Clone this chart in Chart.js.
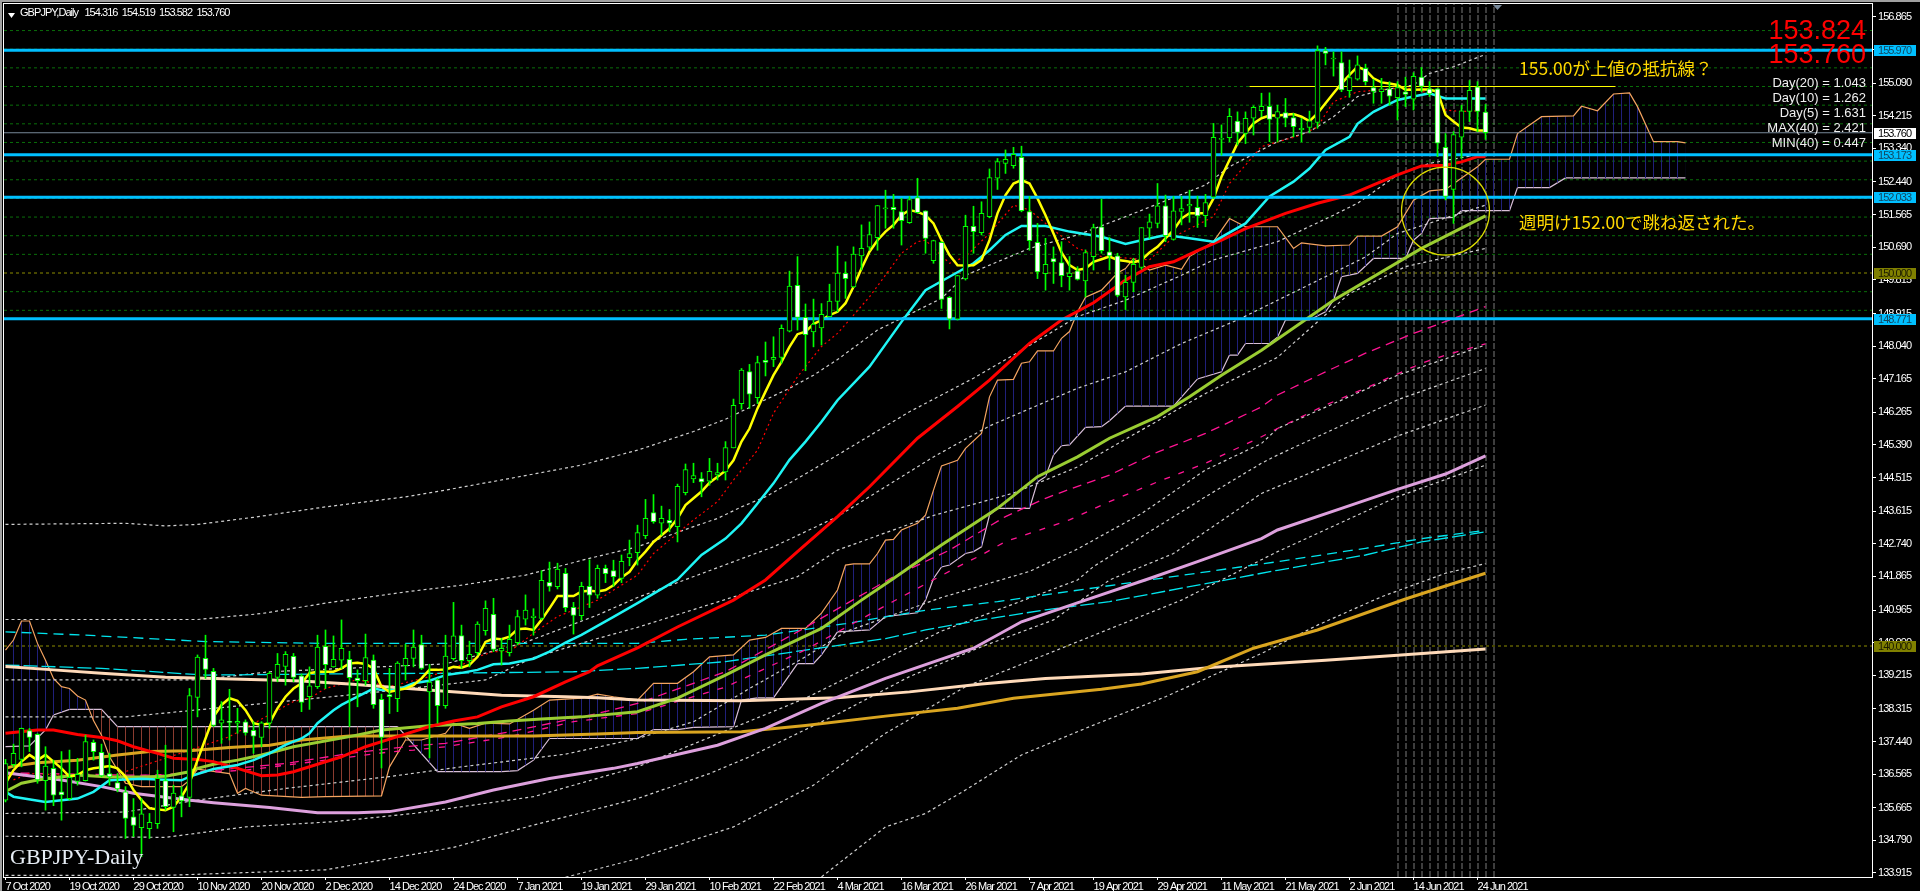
<!DOCTYPE html>
<html>
<head>
<meta charset="utf-8">
<title>GBPJPY Daily</title>
<script src="https://cdn.jsdelivr.net/npm/chart.js@4/dist/chart.umd.min.js"></script>
<style>
html, body { margin: 0; padding: 0; background: #000; overflow: hidden; }
canvas { display: block; }
</style>
</head>
<body>
<canvas id="chart" width="1920" height="891"></canvas>
<script>
// candles, one value per bar
const opens = [
  135.87,136.82,136.96,137.73,137.63,136.39,136.72,136.09,135.91,136.37,
  136.39,137.42,137.15,136.58,136.34,136.09,135.42,135.13,135.10,135.24,
  136.39,135.67,135.98,135.94,138.62,139.67,139.32,137.93,137.98,137.93,
  137.97,137.74,137.55,137.93,139.16,139.45,139.72,139.20,138.64,138.91,
  139.99,139.44,139.62,139.64,139.14,139.07,139.62,138.57,138.70,138.59,
  139.47,139.67,140.04,138.77,139.09,138.40,139.66,140.28,139.61,139.82,
  140.41,140.85,139.87,139.82,140.09,140.72,140.76,140.74,141.71,141.59,
  141.95,141.04,140.81,141.60,141.36,142.08,142.02,141.81,142.37,142.50,
  142.96,143.58,143.29,143.37,143.20,144.11,144.48,144.49,144.42,144.59,
  144.67,145.31,146.50,147.36,146.66,147.66,147.68,147.74,148.44,149.67,
  148.81,148.42,148.53,148.83,149.24,149.99,149.63,150.46,150.69,150.95,
  151.72,151.76,151.65,151.35,152.02,151.67,150.33,150.82,149.35,148.76,
  149.84,151.25,151.08,151.51,152.54,152.94,152.88,153.10,151.65,150.82,
  149.98,150.39,150.28,149.90,150.06,149.79,150.44,151.24,150.57,150.46,
  149.36,149.75,150.15,151.20,151.33,151.80,150.90,151.65,151.80,151.76,
  151.54,152.03,153.58,153.63,154.07,153.74,154.15,154.35,154.47,154.15,
  154.30,154.17,153.84,153.90,154.04,155.96,155.74,155.64,154.89,155.20,
  155.49,154.97,154.86,154.94,154.70,154.86,154.66,155.25,154.94,154.94,
  153.37,152.24,153.64,154.33,154.99,154.316
];
const closes = [
  136.85,137.12,137.79,137.55,136.41,136.78,136.0,136.01,136.48,136.56,
  137.44,137.17,136.52,136.49,136.17,135.38,135.19,135.50,135.27,136.45,
  135.69,136.06,135.85,138.67,139.70,139.37,137.87,138.02,137.95,137.98,
  137.67,137.58,137.94,139.27,139.51,139.78,139.16,138.49,138.93,139.97,
  139.50,139.64,139.94,139.15,139.07,139.69,138.43,137.55,138.64,139.54,
  139.67,139.97,139.40,139.03,138.40,139.73,140.27,139.61,139.78,140.59,
  141.01,139.91,139.94,140.18,140.79,140.96,140.80,141.76,141.60,142.06,
  141.03,140.82,141.60,141.36,142.08,141.94,141.86,142.27,142.48,143.04,
  143.42,143.33,143.42,143.29,144.28,144.73,144.57,144.40,144.68,144.65,
  145.32,146.45,147.40,146.75,147.60,147.60,147.74,148.52,149.65,148.81,
  148.35,148.63,148.89,149.25,150.0,149.85,150.51,150.66,151.03,151.81,
  151.75,151.70,151.40,151.97,151.62,150.93,150.87,149.29,148.76,149.93,
  151.25,151.11,151.60,152.56,152.99,153.05,153.18,151.67,150.87,150.03,
  150.23,150.30,149.93,150.0,149.83,150.55,151.22,150.60,150.46,149.40,
  149.75,150.23,151.22,151.37,151.80,151.0,151.67,151.73,151.84,151.53,
  151.89,153.64,153.61,154.20,153.77,154.15,154.44,154.47,154.12,154.33,
  154.15,153.92,153.88,154.08,155.96,155.89,155.76,154.91,155.24,155.58,
  155.13,154.87,154.94,154.74,154.97,154.79,155.27,155.0,154.80,153.48,
  152.05,153.71,154.35,154.90,154.33,153.76
];
const highs = [
  136.96,137.37,137.80,137.79,137.65,137.30,136.94,137.17,137.21,136.99,
  137.61,137.48,137.37,137.12,136.58,136.23,135.91,135.91,135.51,136.67,
  137.34,136.27,136.23,138.86,139.76,140.29,139.40,138.51,138.84,138.33,
  138.02,137.97,137.97,139.31,139.80,139.85,139.80,139.25,139.44,140.29,
  140.43,140.27,140.70,139.86,139.36,140.32,139.76,138.71,139.40,139.58,
  140.05,140.43,140.29,139.51,139.13,140.29,141.17,140.56,140.13,140.65,
  141.21,141.28,140.20,140.56,140.96,141.37,141.0,142.02,142.25,142.22,
  142.08,141.17,141.71,142.31,142.17,142.17,142.30,142.44,142.84,143.24,
  143.93,144.06,143.75,143.66,144.34,144.88,144.90,144.65,145.03,144.90,
  145.48,146.62,147.44,147.55,147.77,148.15,148.29,148.61,150.05,150.44,
  149.17,149.30,149.18,149.70,150.72,150.30,150.70,151.29,151.37,151.81,
  152.22,152.11,152.0,152.05,152.54,151.67,150.88,150.84,149.37,149.94,
  151.55,151.79,151.91,152.79,153.07,153.30,153.37,153.40,152.05,151.33,
  150.93,150.70,150.84,150.44,150.17,150.62,151.31,151.98,150.95,150.53,
  149.94,150.39,151.22,151.58,152.40,152.09,152.05,152.05,152.22,152.06,
  152.11,154.01,153.97,154.41,154.32,154.32,154.48,154.82,154.83,154.50,
  154.68,154.28,154.15,154.34,156.09,156.05,155.93,155.93,155.71,155.82,
  155.60,155.19,155.22,155.13,155.13,155.25,155.37,155.51,155.13,154.95,
  153.74,153.79,154.50,155.16,155.13,154.519
];
const lows = [
  135.82,136.76,136.76,137.17,136.32,135.60,135.72,135.33,135.87,136.27,
  136.38,136.94,136.49,136.27,136.09,134.84,134.89,134.35,134.84,135.11,
  135.60,135.02,135.42,135.69,138.10,139.13,137.84,137.39,137.48,137.66,
  137.61,137.12,137.30,137.79,139.04,138.95,139.04,138.24,138.30,138.86,
  138.86,139.43,139.40,137.84,138.37,138.95,138.33,136.73,138.19,138.24,
  139.09,139.44,139.37,137.0,137.93,138.33,139.62,139.40,139.44,139.76,
  140.29,139.85,139.49,139.73,140.03,140.56,140.29,140.70,141.47,141.53,
  140.92,140.32,140.70,141.03,141.28,141.7,141.6,141.7,142.15,142.17,
  142.88,143.29,142.97,143.06,142.79,144.05,144.38,144.0,144.31,144.45,
  144.45,145.31,146.35,146.37,146.50,147.24,147.49,147.58,148.42,148.47,
  147.38,148.02,148.07,148.83,148.96,149.32,149.61,150.08,150.61,150.61,
  151.20,151.20,150.75,151.33,151.60,150.53,150.26,149.05,148.50,148.74,
  149.81,150.53,151.02,151.48,152.24,152.67,152.81,151.64,150.61,149.85,
  149.54,149.72,149.63,149.54,149.81,149.36,150.08,150.53,150.08,149.36,
  149.02,149.50,150.10,150.93,151.21,150.84,150.88,151.29,151.36,151.22,
  151.24,152.0,153.16,153.52,153.43,153.47,153.70,154.19,153.52,153.52,
  153.92,153.65,153.52,153.76,153.88,155.58,155.28,154.86,154.71,155.17,
  155.04,154.55,154.55,154.50,154.10,154.46,154.37,154.86,154.73,153.12,
  151.96,151.33,153.07,154.06,153.79,153.582
];

// fast moving average, one value per bar
const yellowMa = [
  136.32,136.67,136.90,137.08,136.94,137.08,136.90,136.72,136.50,136.54,
  136.67,136.72,136.75,136.78,136.72,136.50,136.14,135.87,135.65,135.62,
  135.60,135.69,135.96,136.32,136.94,137.52,138.10,138.42,138.60,138.53,
  138.28,137.93,137.88,137.93,138.33,138.64,138.86,139.0,139.27,139.31,
  139.31,139.31,139.40,139.53,139.55,139.52,139.40,138.91,138.77,138.82,
  138.86,138.95,139.13,139.36,139.36,139.37,139.44,139.42,139.49,139.71,
  140.11,140.20,140.18,140.25,140.45,140.47,140.43,140.70,141.01,141.34,
  141.34,141.34,141.46,141.48,141.46,141.50,141.63,141.84,141.99,142.30,
  142.53,142.79,142.97,143.15,143.42,143.78,143.96,144.14,144.38,144.54,
  144.70,144.98,145.48,145.83,146.37,146.82,147.26,147.62,148.02,148.36,
  148.43,148.63,148.74,148.87,148.96,149.19,149.63,150.12,150.57,150.88,
  151.11,151.29,151.55,151.69,151.64,151.55,151.33,150.88,150.48,150.21,
  150.20,150.21,150.35,150.88,151.60,152.09,152.40,152.49,152.40,152.0,
  151.55,151.06,150.55,150.21,150.08,150.12,150.30,150.37,150.44,150.35,
  150.32,150.28,150.35,150.55,150.70,150.93,151.15,151.46,151.60,151.60,
  151.60,152.0,152.58,153.03,153.48,153.74,154.01,154.15,154.22,154.22,
  154.24,154.26,154.19,154.07,154.28,154.55,154.82,155.08,155.31,155.53,
  155.44,155.22,155.11,155.08,155.04,154.91,154.91,154.92,154.92,154.86,
  154.24,154.06,153.90,153.88,153.82,153.82
];

// the other indicator lines were read at the bars listed in their X array
const cyanMaX = [0,1,5,9,11,13,15,17,19,22,23,24,26,29,31,33,35,37,38,39,41,42,44,46,47,49,51,53,55,57,59,61,63,66,68,70,72,74,76,79,84,87,90,92,94,96,98,100,102,104,108,112,115,118,121,123,125,127,130,133,137,140,142,145,148,151,155,158,161,163,165,168,169,171,174,176,178,180,185];
const cyanMa = [136.09,135.96,135.82,135.91,136.09,136.40,136.42,136.44,136.42,136.40,136.50,136.57,136.70,136.81,136.94,137.12,137.35,137.52,137.66,137.93,138.28,138.42,138.64,138.86,138.82,138.82,139.0,139.07,139.22,139.28,139.36,139.51,139.53,139.66,139.85,140.09,140.30,140.54,140.78,141.15,141.78,142.44,142.88,143.29,143.82,144.36,144.99,145.48,146.01,146.59,147.49,148.69,149.54,149.90,150.26,150.61,151.02,151.26,151.26,151.11,150.97,150.78,150.88,151.02,150.93,150.84,151.33,152.05,152.45,152.8,153.30,153.65,154.0,154.32,154.64,154.73,154.82,154.68,154.68];
const redMaX = [0,4,6,9,12,14,16,19,21,24,26,29,32,34,36,42,45,49,53,56,59,62,66,70,73,74,79,84,91,95,99,104,108,114,119,123,128,132,136,140,143,146,149,152,155,160,164,168,171,174,177,180,182,184,185];
const redMa = [137.66,137.75,137.75,137.63,137.55,137.46,137.30,137.12,136.99,136.96,136.90,136.72,136.52,136.54,136.63,137.03,137.30,137.57,137.84,137.99,138.10,138.37,138.64,139.04,139.31,139.47,139.95,140.51,141.23,141.77,142.53,143.47,144.27,145.57,146.42,147.13,148.11,148.74,149.2,149.81,150.17,150.30,150.6,150.88,151.19,151.6,151.87,152.09,152.36,152.63,152.87,152.89,152.98,153.12,153.12];
const greenMaX = [0,2,4,6,9,13,17,20,23,24,26,29,32,36,43,47,53,59,63,67,72,74,79,84,90,95,102,107,111,117,124,129,134,138,144,148,152,157,166,177,185];
const greenMa = [136.1,136.32,136.41,136.47,136.54,136.49,136.49,136.51,136.63,136.72,136.83,136.94,137.08,137.30,137.57,137.75,137.86,137.92,137.99,138.04,138.10,138.14,138.24,138.60,139.22,139.76,140.47,141.23,141.81,142.71,143.69,144.54,145.07,145.57,146.15,146.68,147.26,147.93,149.27,150.66,151.53];
const plumMaX = [0,7,12,16,22,26,33,39,44,48,55,61,68,76,79,89,95,102,110,121,127,135,143,149,157,159,167,174,180,185];
const plumMa = [136.60,136.41,136.23,136.05,135.89,135.80,135.67,135.53,135.53,135.56,135.82,136.14,136.45,136.72,136.85,137.34,137.79,138.46,139.13,139.94,140.65,141.23,141.81,142.26,142.88,143.11,143.69,144.2,144.61,145.10];
const goldMaX = [0,1,4,9,14,18,23,28,33,37,43,49,58,66,74,79,92,100,110,119,126,137,142,149,156,164,175,180,185];
const goldMa = [136.72,136.78,136.87,136.94,137.08,137.17,137.19,137.28,137.34,137.48,137.59,137.59,137.59,137.59,137.64,137.68,137.70,137.87,138.12,138.33,138.6,138.84,138.98,139.31,139.94,140.43,141.26,141.61,141.95];
const peachMaX = [0,6,12,20,26,33,37,43,49,55,62,70,74,79,92,104,113,122,130,142,151,165,174,185];
const peachMa = [139.45,139.36,139.27,139.16,139.13,139.09,139.06,138.98,138.88,138.79,138.68,138.64,138.61,138.55,138.53,138.61,138.77,138.98,139.13,139.25,139.43,139.62,139.75,139.92];
const redDotX = [1,3,13,25,28,36,38,40,44,48,53,57,59,61,63,66,69,71,74,79,81,84,86,89,91,94,96,99,102,104,108,112,114,115,118,120,123,126,128,131,134,137,141,143,146,151,153,157,162,164,166,169,174,176,179,180,182,184];
const redDot = [136.41,136.58,136.49,137.35,137.57,138.51,138.60,138.86,139.10,138.91,139.18,139.49,139.71,139.85,139.85,140.34,140.79,140.96,141.23,141.90,142.48,143.02,143.38,143.87,144.45,145.25,146.24,147.22,148.03,148.38,149.36,150.53,150.84,150.88,150.26,150.44,151.06,151.82,151.69,151.15,150.66,150.44,150.39,150.35,150.97,151.51,152.40,153.39,153.70,153.92,154.59,154.86,154.95,154.95,154.73,154.37,154.33,154.35];

// ichimoku cloud, runs 25 bars past the last candle
const spanAX = [
  0,1,2,3,4, 5,6,7,8,9, 10,11,12,13,15, 17,22,23,24,28, 29,30,32,37,40,
  47,48,50,52,55, 56,58,60,63,66, 68,72,74,76,79, 81,84,86,88,91, 93,95,97,100,102,
  104,105,106,108,109, 110,111,112,114,115, 116,117,119,120,122, 123,124,126,127,128,
  129,131,132,133,134, 135,137,139,140,141, 143,145,147,148,151, 153,155,159,161,162,
  165,168,169,172,174, 176,178,180,184,185, 188,189,192,196,197, 199,201,203,204,206, 209,210
];
const spanA = [
  139.89,140.16,140.67,140.67,140.07, 139.62,139.13,138.91,138.86,138.66, 138.55,138.0,137.61,137.03,136.32, 136.23,136.23,136.4,136.7,136.58, 136.05,136.18,136.0,135.94,135.96,
  135.98,136.76,137.48,137.48,137.66, 137.93,137.79,137.93,137.91,138.28, 138.55,138.6,138.71,138.64,138.55, 139.0,139.0,139.31,139.71,139.76, 140.16,140.23,140.47,140.47,140.88,
  141.5,142.17,142.2,142.2,142.48, 142.84,142.86,143.11,143.29,143.51, 144.18,144.83,144.98,145.3,145.7, 146.68,147.13,147.15,147.58,147.62,
  147.91,147.91,148.25,148.43,148.96, 149.35,149.54,150.0,150.12,150.39, 150.08,150.21,150.1,150.44,150.84, 151.46,151.24,151.24,150.66,150.81,
  150.73,150.75,150.99,150.99,151.24, 151.95,152.2,152.24,152.85,153.05, 153.05,153.74,154.19,154.21,154.47, 154.35,154.8,154.83,154.46,153.52, 153.52,153.49
];
const spanBX = [0,3,5,6,8,12,14,36,49,54,62,64,66,68,79,81,84,86,91,92,94,96,99,101,102,104,108,110,114,115,116,117,118,120,121,122,123,124,128,129,130,131,132,133,135,137,138,140,146,149,152,153,154,155,158,159,160,163,165,166,167,169,171,175,176,177,178,181,182,188,189,193,195,210];
const spanB = [137.3,137.32,137.75,138.15,138.3,138.3,137.84,137.84,137.84,136.63,136.63,136.66,136.94,137.52,137.52,137.76,137.76,137.82,137.84,138.55,138.61,138.61,139.53,139.53,139.76,140.38,140.43,140.79,140.89,141.23,141.81,142.12,142.17,142.48,142.53,142.66,143.51,143.69,143.69,144.4,144.54,145.12,145.37,145.39,145.86,145.88,146.04,146.43,146.43,147.16,147.35,147.8,147.8,148.11,148.11,148.28,148.74,148.74,148.96,149.27,149.9,149.99,150.39,150.39,150.88,151.06,151.46,151.49,151.67,151.67,152.29,152.29,152.55,152.55];

// thin dotted envelopes
const env1X = [0,15,20,24,31,40,50,55,63,72,79,86,90,94,98,101,104,109,117,120,128,134,140,150,153,157,159,163,166,169,172,176,178,181,185];
const env1 = [143.26,143.29,143.22,143.26,143.45,143.73,144.0,144.18,144.49,144.85,145.25,145.75,146.08,146.5,146.91,147.26,147.68,148.47,149.32,149.94,150.66,151.02,151.51,152.36,152.85,153.3,153.52,153.79,154.19,154.73,154.9,155.04,155.35,155.53,155.86];
const env2X = [0,24,32,40,50,57,65,73,79,86,89,92,95,99,104,113,121,126,134,140,147,151,159,166,169,174,178,185];
const env2 = [140.71,140.71,140.87,141.15,141.45,141.63,141.9,142.35,142.66,143.2,143.42,143.73,144.0,144.49,145.12,146.28,147.18,147.8,148.83,149.27,149.94,150.35,150.84,151.55,151.87,152.63,152.94,153.21];
const env3X = [0,24,33,55,65,74,79,96,104,116,123,134,140,147,154,170,174,185];
const env3 = [139.09,139.09,139.31,139.52,140.1,140.83,141.3,142.66,143.47,145.07,145.9,146.91,147.35,148.11,148.74,150.43,151.06,151.82];
const env4X = [0,15,28,45,60,66,74,79,99,104,116,126,134,142,150,159,168,175,185];
const env4 = [138.1,138.1,138.37,138.73,139.09,139.69,140.2,140.5,141.86,142.57,143.5,144.1,144.8,145.79,146.77,147.74,149.45,150.17,150.66];
const env5X = [0,15,24,35,48,57,70,79,86,93,100,105,117,128,134,142,150,157,159,174,185];
const env5 = [135.51,135.55,135.87,136.18,136.5,136.76,137.1,137.52,137.97,138.86,139.71,140.38,141.3,142.0,142.6,143.55,144.72,145.43,145.83,147.26,148.07];
const env6X = [0,20,30,41,51,66,79,100,117,134,136,142,150,157,159,174,185];
const env6 = [134.9,134.87,135.15,135.29,135.51,135.96,136.76,138.6,140.4,141.77,142.13,142.93,144.0,144.9,145.12,146.6,147.44];
const env7X = [0,20,40,56,66,79,88,93,105,113,122,131,138,146,157,174,185];
const env7 = [133.85,133.85,134.0,134.6,135.2,135.91,136.58,137.03,138.28,139.18,139.98,140.7,141.77,142.48,144.09,145.63,146.46];
const env8X = [70,79,91,101,110,120,147,159,174,185];
const env8 = [133.8,134.3,135.15,136.27,137.66,138.91,141.23,142.53,144.0,144.85];
const env9X = [102,110,115,120,127,136,145,151,157,164,172,180,185];
const env9 = [133.81,135.15,135.51,136.14,137.08,137.88,138.64,139.22,139.8,140.56,141.32,141.95,142.21];

// dashed magenta and cyan lines
const pinkDash1X = [0,15,20,35,43,50,55,63,74,79,90,100,111,118,125,130,133,138,144,150,157,159,165,170,176,185];
const pinkDash1 = [136.6,136.54,136.54,136.85,137.12,137.3,137.39,137.7,138.19,138.46,139.31,140.5,141.86,142.57,143.47,143.96,144.2,144.58,145.2,145.7,146.41,146.73,147.35,147.85,148.38,149.1];
const pinkDash2X = [0,15,30,40,48,51,55,63,71,79,90,100,111,119,122,125,133,138,144,150,157,159,165,170,173,177,180,185];
const pinkDash2 = [136.55,136.5,136.67,136.94,137.16,137.21,137.3,137.57,137.97,138.19,138.9,139.9,141.2,142.12,142.44,142.8,143.38,143.87,144.4,144.9,145.61,145.83,146.46,146.91,147.2,147.58,147.8,148.1];
const cyanDash1X = [0,10,25,40,66,79,85,95,105,115,124,159,170,177,185];
const cyanDash1 = [140.38,140.29,140.12,140.07,140.07,140.07,140.18,140.29,140.6,140.96,141.19,142.26,142.62,142.88,143.1];
const cyanDash2X = [0,12,25,40,55,71,79,90,100,110,115,122,130,138,159,170,177,185];
const cyanDash2 = [139.49,139.4,139.22,139.25,139.27,139.31,139.4,139.58,139.89,140.2,140.43,140.7,140.97,141.19,142.03,142.44,142.79,143.06];

// horizontal levels
const gridLevels = [156.5,156,155.5,155,154.5,154,153.5,153,152.5,152,151.5,151,150.5,149.5,149];
const roundLevels = [150,140];
const supportLevels = [155.97,153.173,152.033,148.771];
const lastPrice = 153.76;

// a trend line, the vertical period markers and the circle around the low
const resistanceLevel = 155.0;
const resistanceX = [155.5,201.25];
const periodBars = [174,175,176,177,178,179,180,181,182,183,184,185,186];
const circleBar = 180;
const circlePrice = 151.66;

// axes
const dateLabels = ['7 Oct 2020','19 Oct 2020','29 Oct 2020','10 Nov 2020','20 Nov 2020','2 Dec 2020','14 Dec 2020','24 Dec 2020','7 Jan 2021','19 Jan 2021','29 Jan 2021','10 Feb 2021','22 Feb 2021','4 Mar 2021','16 Mar 2021','26 Mar 2021','7 Apr 2021','19 Apr 2021','29 Apr 2021','11 May 2021','21 May 2021','2 Jun 2021','14 Jun 2021','24 Jun 2021'];
const dateLabelStep = 8;
const priceTicks = [156.865,155.990,155.090,154.215,153.340,152.440,151.565,150.690,149.815,148.915,148.040,147.165,146.265,145.390,144.515,143.615,142.740,141.865,140.965,140.090,139.215,138.315,137.440,136.565,135.665,134.790,133.915];

// text on the right
const statLabels = ['Day(20) = 1.043','Day(10) = 1.262','Day(5) = 1.631','MAX(40) = 2.421','MIN(40) = 0.447'];
const spreadLabels = ['153.824','153.760'];

const xMin = -0.1875;
const xMax = 233.3125;
const yMin = 133.807;
const yMax = 157.212;

const AXIS_FONT = '"Liberation Sans", sans-serif';
const TIGHT = '-0.95px';

function pairs(xs, ys) {
    return xs.map((x, i) => ({ x: x, y: ys[i] }));
}

function line(xs, ys, color, width, dash, order) {
    return {
        type: 'line',
        data: pairs(xs, ys),
        borderColor: color,
        borderWidth: width,
        borderDash: dash || [],
        pointRadius: 0,
        tension: 0,
        fill: false,
        order: order,
    };
}

function level(value, color, width, dash, order) {
    return line([xMin, xMax], [value, value], color, width, dash, order);
}

// one pixel stripe for every bar, used to hatch the cloud
function stripes(color) {
    const c = document.createElement('canvas');
    c.width = 8;
    c.height = 1;
    const g = c.getContext('2d');
    g.fillStyle = color;
    g.fillRect(5, 0, 1, 1);
    return g.createPattern(c, 'repeat');
}

const barIndex = opens.map((_, i) => i);
const periodData = [];
periodBars.forEach((bar) => {
    periodData.push({ x: bar + 0.0625, y: yMin }, { x: bar + 0.0625, y: yMax }, { x: bar, y: null });
});

const cloudA = line(spanAX, spanA, '#f4a460', 1.2, [], 22);
cloudA.fill = { target: '+1', above: stripes('#20207a'), below: stripes('#8b3c30') };

const datasets = [
    // candle bodies and wicks stay on top of the lines
    {
        type: 'scatter',
        data: [{ x: circleBar, y: circlePrice }],
        pointRadius: 44,
        pointHoverRadius: 44,
        pointBackgroundColor: 'transparent',
        pointBorderColor: '#dcdc00',
        pointBorderWidth: 1.2,
        order: 0,
    },
    {
        type: 'bar',
        data: barIndex.map((i) => ({ x: i, y: [opens[i], closes[i]] })),
        backgroundColor: barIndex.map((i) => (closes[i] < opens[i] ? '#ffffff' : '#000000')),
        borderColor: '#00ff00',
        borderWidth: 1,
        borderSkipped: false,
        barThickness: 5,
        grouped: false,
        order: 1,
    },
    {
        type: 'bar',
        data: barIndex.map((i) => ({ x: i, y: [lows[i], highs[i]] })),
        backgroundColor: '#00ff00',
        barThickness: 1,
        grouped: false,
        order: 2,
    },
    line(resistanceX, [resistanceLevel, resistanceLevel], '#ffff00', 1, [], 3),
    ...supportLevels.map((v) => level(v, '#00bfff', 3, [], 4)),
    level(lastPrice, '#778899', 1, [], 5),
    line(barIndex, yellowMa, '#ffff00', 2.5, [], 6),
    line(cyanMaX, cyanMa, '#1ff5f5', 2.5, [], 7),
    line(redMaX, redMa, '#ff0000', 3, [], 8),
    line(greenMaX, greenMa, '#9acd32', 3, [], 9),
    line(plumMaX, plumMa, '#dda0dd', 3, [], 10),
    line(goldMaX, goldMa, '#daa520', 3, [], 11),
    line(peachMaX, peachMa, '#ffdab9', 3, [], 12),
    line(redDotX, redDot, '#ff0000', 1.2, [2, 3], 13),
    line(pinkDash1X, pinkDash1, '#ff1493', 1.3, [9, 6], 14),
    line(pinkDash2X, pinkDash2, '#ff1493', 1.3, [6, 9], 14),
    line(cyanDash1X, cyanDash1, '#00e5ee', 1.3, [10, 6], 15),
    line(cyanDash2X, cyanDash2, '#00e5ee', 1.3, [14, 4], 15),
    line(env1X, env1, '#d0d0d0', 1.2, [3, 3], 16),
    line(env2X, env2, '#d0d0d0', 1.2, [3, 3], 16),
    line(env3X, env3, '#d0d0d0', 1.2, [3, 3], 16),
    line(env4X, env4, '#d0d0d0', 1.2, [3, 3], 16),
    line(env5X, env5, '#d0d0d0', 1.2, [3, 3], 16),
    line(env6X, env6, '#d0d0d0', 1.2, [3, 3], 16),
    line(env7X, env7, '#d0d0d0', 1.2, [3, 3], 16),
    line(env8X, env8, '#d0d0d0', 1.2, [3, 3], 16),
    line(env9X, env9, '#d0d0d0', 1.2, [3, 3], 16),
    cloudA,
    line(spanBX, spanB, '#d8bfd8', 1.2, [], 22),
    { type: 'line', data: periodData, borderColor: '#7a7a7a', borderWidth: 1, borderDash: [6, 2], pointRadius: 0, spanGaps: false, order: 24 },
    ...gridLevels.map((v) => level(v, '#0a6e0a', 1, [3, 3], 30)),
    ...roundLevels.map((v) => level(v, '#8c8c00', 1, [3, 3], 30)),
];

// black panel, window edge and the white frame
const panel = {
    id: 'panel',
    beforeDraw(chart) {
        const { ctx, width, height } = chart;
        ctx.save();
        ctx.fillStyle = '#000';
        ctx.fillRect(0, 0, width, height);
        ctx.fillStyle = '#a0a0a0';
        ctx.fillRect(0, 0, width, 2);
        ctx.fillRect(0, 0, 2, height);
        ctx.restore();
        // the terminal font is narrower than anything installed
        ctx.letterSpacing = TIGHT;
    },
    afterDraw(chart) {
        const { ctx, chartArea: a, scales } = chart;
        const y = scales.y;
        ctx.save();
        ctx.strokeStyle = '#fff';
        ctx.lineWidth = 1;
        ctx.strokeRect(a.left - 0.5, a.top - 0.5, a.right - a.left + 1, a.bottom - a.top + 1);

        // little triangle next to the title and the chart shift marker
        ctx.fillStyle = '#fff';
        ctx.beginPath();
        ctx.moveTo(8, 13);
        ctx.lineTo(15, 13);
        ctx.lineTo(11.5, 18);
        ctx.fill();
        ctx.fillStyle = '#778899';
        ctx.beginPath();
        ctx.moveTo(1493, 5);
        ctx.lineTo(1502, 5);
        ctx.lineTo(1497.5, 10);
        ctx.fill();

        ctx.textBaseline = 'middle';
        ctx.textAlign = 'left';
        ctx.fillStyle = '#fff';
        ctx.font = '11px ' + AXIS_FONT;
        ctx.fillText('GBPJPY,Daily   154.316  154.519  153.582  153.760', 20, 13);

        // boxed prices on the axis
        const boxes = [
            [155.97, '#00bfff', '#12465f'],
            [153.173, '#00bfff', '#12465f'],
            [152.033, '#00bfff', '#12465f'],
            [148.771, '#00bfff', '#12465f'],
            [lastPrice, '#ffffff', '#000000'],
            [150, '#808000', '#1c1c00'],
            [140, '#808000', '#1c1c00'],
        ];
        boxes.forEach(([value, bg, fg]) => {
            const py = Math.round(y.getPixelForValue(value));
            ctx.fillStyle = bg;
            ctx.fillRect(a.right + 2, py - 5, 42, 11);
            ctx.fillStyle = fg;
            ctx.fillText(value.toFixed(3), a.right + 6, py + 0.5);
        });

        ctx.letterSpacing = '0px';
        ctx.font = '22px "Liberation Serif", serif';
        ctx.fillStyle = '#e6edf5';
        ctx.fillText('GBPJPY-Daily', 10, 858);

        ctx.font = '17.5px "Noto Sans CJK JP", sans-serif';
        ctx.fillStyle = '#ffd700';
        ctx.fillText('155.00が上値の抵抗線？', 1519, 68);
        ctx.fillText('週明け152.00で跳ね返された。', 1519, 222);

        ctx.textAlign = 'right';
        ctx.font = '27px "Liberation Sans", sans-serif';
        ctx.fillStyle = '#ff0000';
        spreadLabels.forEach((t, i) => ctx.fillText(t, 1866, 32 + i * 24));
        ctx.font = '13px "Liberation Sans", sans-serif';
        ctx.fillStyle = '#f0f0f0';
        statLabels.forEach((t, i) => ctx.fillText(t, 1866, 83 + i * 15));
        ctx.restore();
    },
};

new Chart(document.getElementById('chart'), {
    data: { datasets: datasets },
    plugins: [panel],
    options: {
        responsive: false,
        animation: false,
        devicePixelRatio: 1,
        events: [],
        layout: { autoPadding: false, padding: { left: 4, top: 4, right: 0, bottom: 0 } },
        plugins: { legend: { display: false }, tooltip: { enabled: false } },
        scales: {
            x: {
                type: 'linear',
                min: xMin,
                max: xMax,
                offset: false,
                border: { display: false },
                grid: { offset: false, drawOnChartArea: false, color: '#fff', tickLength: 3 },
                afterBuildTicks(scale) {
                    scale.ticks = dateLabels.map((_, i) => ({ value: i * dateLabelStep }));
                },
                afterFit(scale) {
                    scale.height = 14;
                    scale.paddingLeft = 0;
                    scale.paddingRight = 0;
                },
                ticks: {
                    autoSkip: false,
                    maxRotation: 0,
                    align: 'start',
                    padding: 0,
                    color: '#fff',
                    font: { family: AXIS_FONT, size: 11 },
                    callback: (value) => dateLabels[value / dateLabelStep],
                },
            },
            y: {
                type: 'linear',
                position: 'right',
                min: yMin,
                max: yMax,
                border: { display: false },
                grid: { drawOnChartArea: false, color: '#fff', tickLength: 4 },
                afterBuildTicks(scale) {
                    scale.ticks = priceTicks.map((v) => ({ value: v }));
                },
                afterFit(scale) {
                    scale.width = 48;
                    scale.paddingTop = 0;
                    scale.paddingBottom = 0;
                },
                ticks: {
                    autoSkip: false,
                    padding: 2,
                    color: '#fff',
                    font: { family: AXIS_FONT, size: 11 },
                    callback: (value) => value.toFixed(3),
                },
            },
        },
    },
});
</script>
</body>
</html>
